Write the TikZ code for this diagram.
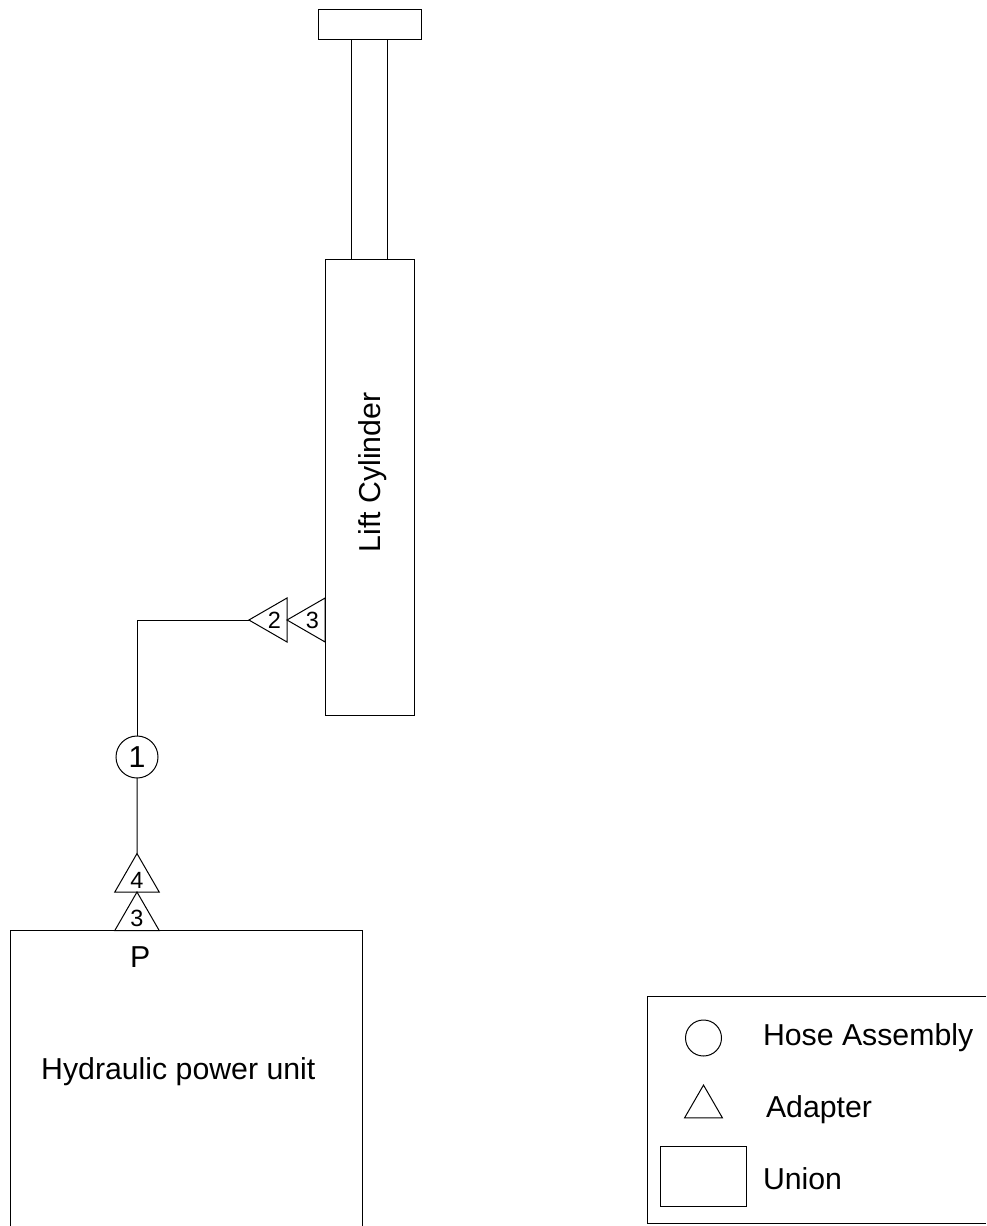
\documentclass[tikz,border=0pt]{standalone}
\usepackage{fontspec}
\setmainfont{Liberation Sans}
\usetikzlibrary{shapes.geometric,positioning}

\tikzset{
  part/.style={draw, line width=0.75pt, inner sep=0pt, outer sep=0pt},
  adapter/.style={part, regular polygon, regular polygon sides=3, minimum size=38.1pt, font=\fontsize{17.6}{18}\selectfont},
  adapter up/.style={adapter, text height=13.6pt, text depth=0pt},
  adapter left/.style={adapter, shape border rotate=90},
  hose/.style={part, circle, minimum size=31.5pt, font=\fontsize{22.7}{24}\selectfont},
  label/.style={inner sep=0pt, outer sep=0pt, font=\fontsize{22.7}{27}\selectfont},
  edge line/.style={line width=0.75pt}
}

\begin{document}
\begin{tikzpicture}[x=0.75pt, y=-0.75pt]
\useasboundingbox (0,0) rectangle (986,1226);

\node (lift_body) at (369.5,487.5) [part, minimum width=66.75pt, minimum height=341.25pt] {};
\node (lift_rod) at (lift_body.north) [part, minimum width=27pt, minimum height=165pt, above=0pt] {};
\node (lift_cap) at (lift_rod.north) [part, minimum width=77.25pt, minimum height=22.5pt, above=0pt] {};
\node (lift_text) at (380,472.5) [label, rotate=90, anchor=base] {Lift Cylinder};

\node (lift_adapter) at (312.4,620) [adapter left] {3};
\node (hose_adapter) at (lift_adapter.corner 1) [adapter left, left=0pt] {2};
\node (hose_one) at (137,757) [hose] {1};

\coordinate (unit_nw) at (10.5,930.5);
\coordinate (unit_ne) at (362,930.5);
\coordinate (unit_sw) at (10.5,1226);
\coordinate (unit_se) at (362,1226);
\draw [edge line] (unit_sw) -- (unit_nw) -- (unit_ne) -- (unit_se);

\node (unit_adapter) at (137,930.5) [adapter up, above=0pt] {3};
\node (pump_adapter) at (unit_adapter.corner 1) [adapter up, above=0pt] {4};
\node (port_p) at (130,967) [label, anchor=base west] {P};
\node (unit_text) at (178.3,1079.5) [label, anchor=base] {Hydraulic power unit};

\draw [edge line] (pump_adapter.corner 1) -- (hose_one);
\draw [edge line] (hose_one) |- (hose_adapter.corner 1);

% legend
\coordinate (legend_ne) at (986,996.5);
\coordinate (legend_nw) at (647,996.5);
\coordinate (legend_sw) at (647,1223);
\coordinate (legend_se) at (986,1223);
\draw [edge line] (legend_ne) -- (legend_nw) -- (legend_sw) -- (legend_se);

\node (legend_hose) at (703.5,1038) [part, circle, minimum size=27pt] {};
\node (legend_adapter) at (703.5,1107) [part, regular polygon, regular polygon sides=3, minimum size=32.9pt] {};
\node (legend_union) at (703.5,1176) [part, minimum width=65pt, minimum height=45pt] {};
\node (legend_hose_text) at (763,1045.5) [label, anchor=base west] {Hose Assembly};
\node (legend_adapter_text) at (766,1117) [label, anchor=base west] {Adapter};
\node (legend_union_text) at (763,1189) [label, anchor=base west] {Union};

\end{tikzpicture}
\end{document}
